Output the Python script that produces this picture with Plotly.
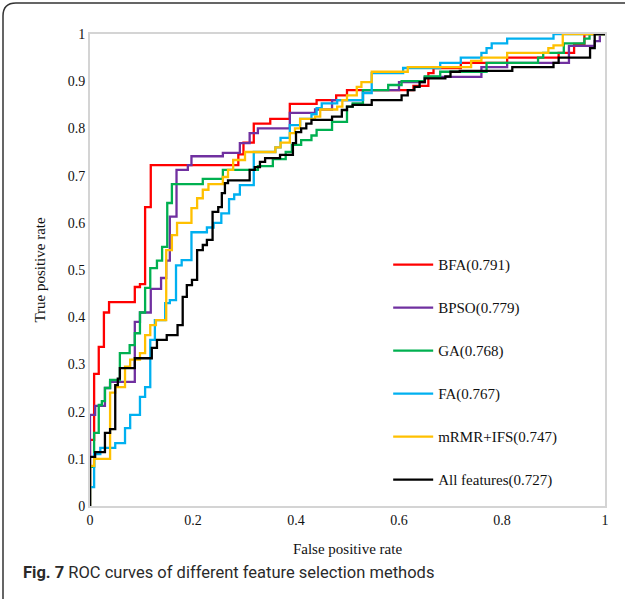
import plotly.graph_objects as go

# ROC step vertices: (FPR where the rise happens, TPR level after the rise)
bfa_fpr = [0, 0, 0.008, 0.017, 0.027, 0.037, 0.087, 0.097, 0.107, 0.118, 0.288, 0.298, 0.318, 0.35, 0.388, 0.44, 0.478, 0.499, 0.628, 0.657, 0.667, 0.72, 0.81, 0.91, 0.94, 0.96, 1.0]
bfa_tpr = [0, 0.14, 0.28, 0.337, 0.41, 0.432, 0.464, 0.47, 0.633, 0.722, 0.745, 0.77, 0.81, 0.82, 0.852, 0.86, 0.87, 0.881, 0.89, 0.917, 0.928, 0.939, 0.95, 0.96, 0.979, 1.0, 1.0]

bpso_fpr = [0, 0, 0.01, 0.029, 0.039, 0.087, 0.097, 0.118, 0.138, 0.148, 0.155, 0.168, 0.19, 0.197, 0.258, 0.291, 0.31, 0.326, 0.388, 0.437, 0.47, 0.53, 0.6, 0.65, 0.76, 0.81, 0.93, 0.98, 0.99, 1.0]
bpso_tpr = [0, 0.193, 0.212, 0.25, 0.263, 0.39, 0.41, 0.46, 0.483, 0.52, 0.613, 0.712, 0.722, 0.741, 0.748, 0.769, 0.79, 0.80, 0.833, 0.84, 0.86, 0.881, 0.898, 0.909, 0.93, 0.939, 0.975, 0.985, 1.0, 1.0]

ga_fpr = [0, 0, 0.008, 0.017, 0.023, 0.029, 0.039, 0.058, 0.077, 0.087, 0.097, 0.107, 0.117, 0.13, 0.14, 0.15, 0.159, 0.219, 0.258, 0.326, 0.355, 0.38, 0.392, 0.41, 0.43, 0.44, 0.47, 0.499, 0.51, 0.53, 0.579, 0.605, 0.65, 0.68, 0.77, 0.87, 0.88, 0.92, 0.96, 0.97, 1.0]
ga_tpr = [0, 0.083, 0.155, 0.214, 0.222, 0.25, 0.267, 0.324, 0.341, 0.366, 0.41, 0.462, 0.504, 0.52, 0.549, 0.642, 0.682, 0.693, 0.712, 0.72, 0.735, 0.75, 0.765, 0.775, 0.785, 0.797, 0.814, 0.846, 0.853, 0.881, 0.892, 0.90, 0.91, 0.92, 0.939, 0.95, 0.96, 0.98, 0.99, 1.0, 1.0]

fa_fpr = [0, 0, 0.008, 0.02, 0.049, 0.068, 0.078, 0.097, 0.107, 0.117, 0.126, 0.146, 0.155, 0.167, 0.178, 0.197, 0.227, 0.24, 0.255, 0.27, 0.28, 0.291, 0.318, 0.36, 0.37, 0.388, 0.408, 0.43, 0.44, 0.45, 0.48, 0.53, 0.547, 0.608, 0.68, 0.72, 0.76, 0.77, 0.78, 0.81, 0.90, 1.0]
fa_tpr = [0, 0.04, 0.11, 0.123, 0.133, 0.165, 0.193, 0.231, 0.252, 0.352, 0.394, 0.43, 0.436, 0.51, 0.521, 0.58, 0.59, 0.60, 0.62, 0.65, 0.66, 0.68, 0.75, 0.76, 0.78, 0.807, 0.82, 0.83, 0.843, 0.853, 0.86, 0.875, 0.917, 0.928, 0.939, 0.95, 0.96, 0.97, 0.98, 0.99, 1.0, 1.0]

mrmr_fpr = [0, 0, 0.008, 0.039, 0.049, 0.068, 0.078, 0.097, 0.107, 0.117, 0.128, 0.148, 0.159, 0.169, 0.197, 0.208, 0.219, 0.23, 0.258, 0.268, 0.278, 0.301, 0.36, 0.37, 0.388, 0.398, 0.408, 0.437, 0.447, 0.48, 0.49, 0.499, 0.518, 0.527, 0.547, 0.617, 0.74, 0.76, 0.81, 0.89, 0.9, 0.918, 1.0]
mrmr_tpr = [0, 0.085, 0.1, 0.24, 0.252, 0.295, 0.31, 0.324, 0.362, 0.383, 0.394, 0.542, 0.574, 0.60, 0.631, 0.652, 0.67, 0.682, 0.697, 0.712, 0.733, 0.75, 0.76, 0.77, 0.79, 0.80, 0.82, 0.825, 0.84, 0.846, 0.86, 0.87, 0.888, 0.898, 0.92, 0.93, 0.943, 0.95, 0.96, 0.97, 0.976, 1.0, 1.0]

all_fpr = [0, 0, 0.01, 0.029, 0.039, 0.049, 0.054, 0.058, 0.087, 0.12, 0.13, 0.149, 0.17, 0.18, 0.188, 0.198, 0.208, 0.219, 0.227, 0.238, 0.249, 0.256, 0.262, 0.268, 0.31, 0.32, 0.33, 0.34, 0.369, 0.394, 0.4, 0.41, 0.42, 0.43, 0.47, 0.489, 0.499, 0.51, 0.547, 0.605, 0.617, 0.63, 0.64, 0.65, 0.69, 0.70, 0.718, 0.82, 0.9, 0.91, 0.971, 0.98, 1.0]
all_tpr = [0, 0.104, 0.114, 0.155, 0.163, 0.256, 0.27, 0.292, 0.313, 0.335, 0.352, 0.362, 0.383, 0.443, 0.468, 0.479, 0.542, 0.553, 0.564, 0.623, 0.633, 0.663, 0.684, 0.69, 0.712, 0.718, 0.729, 0.737, 0.744, 0.769, 0.792, 0.80, 0.81, 0.818, 0.825, 0.839, 0.846, 0.85, 0.86, 0.87, 0.881, 0.888, 0.898, 0.906, 0.91, 0.92, 0.922, 0.93, 0.939, 0.95, 0.97, 1.0, 1.0]

series_names = ["BFA(0.791)", "BPSO(0.779)", "GA(0.768)", "FA(0.767)", "mRMR+IFS(0.747)", "All features(0.727)"]
series_x = [bfa_fpr, bpso_fpr, ga_fpr, fa_fpr, mrmr_fpr, all_fpr]
series_y = [bfa_tpr, bpso_tpr, ga_tpr, fa_tpr, mrmr_tpr, all_tpr]
series_colors = ["#FF0000", "#7030A0", "#00B050", "#00B0F0", "#FFC000", "#000000"]

x_ticks = [0, 0.2, 0.4, 0.6, 0.8, 1]
y_ticks = [0, 0.1, 0.2, 0.3, 0.4, 0.5, 0.6, 0.7, 0.8, 0.9, 1]

fig = go.Figure()
for i, (nm, xs, ys, c) in enumerate(zip(series_names, series_x, series_y, series_colors)):
    fig.add_trace(go.Scatter(x=xs, y=ys, mode="lines", name=nm, legendgroup=str(i),
                             line=dict(color=c, width=2.3, shape="hv")))

serif = "Liberation Serif, Times New Roman, serif"
axis_common = dict(showgrid=False, zeroline=False, showline=True, mirror=True,
                   linecolor="#D4D4D4", linewidth=2, ticks="",
                   tickfont=dict(family=serif, size=14, color="#111"))

L, R, T, B = 90, 20, 34, 93
W, H = 625, 599
pw, ph = W - L - R, H - T - B


def px(x):
    return (x - L) / pw


def py(y):
    return (H - B - y) / ph


fig.update_layout(
    width=W, height=H,
    margin=dict(l=L, r=R, t=T, b=B),
    paper_bgcolor="white", plot_bgcolor="white",
    xaxis=dict(range=[0, 1], tickvals=x_ticks, ticktext=[f"{v:g}" for v in x_ticks],
               title=dict(text="False positive rate", font=dict(family=serif, size=15, color="#111"), standoff=17),
               **axis_common),
    yaxis=dict(range=[0, 1], tickvals=y_ticks, ticktext=[f"{v:g}" for v in y_ticks],
               title=dict(text="True positive rate", font=dict(family=serif, size=15, color="#111"), standoff=18),
               **axis_common),
    legend=dict(x=0.579, y=0.546, xanchor="left", yanchor="top", bgcolor="rgba(0,0,0,0)",
                font=dict(family=serif, size=15, color="#111"), tracegroupgap=20.5,
                itemwidth=40),
    showlegend=True,
)

# figure frame with rounded top-left corner
path = (f"M {px(3)},{py(H + 5)} L {px(3)},{py(16)} "
        f"Q {px(3)},{py(3)} {px(16)},{py(3)} L {px(W + 5)},{py(3)}")
fig.add_shape(type="path", xref="paper", yref="paper", path=path,
              line=dict(color="#333", width=1.5))

fig.add_annotation(xref="paper", yref="paper", x=px(21), y=py(572), xanchor="left", yanchor="middle",
                   showarrow=False, align="left",
                   text="<b>Fig. 7</b> ROC curves of different feature selection methods",
                   font=dict(family="Liberation Sans Narrow, Roboto, sans-serif", size=16.5, color="#2a2a2a"))

fig.write_html("out.html", config={"displayModeBar": False},
               post_script="document.body.style.margin='0';")
